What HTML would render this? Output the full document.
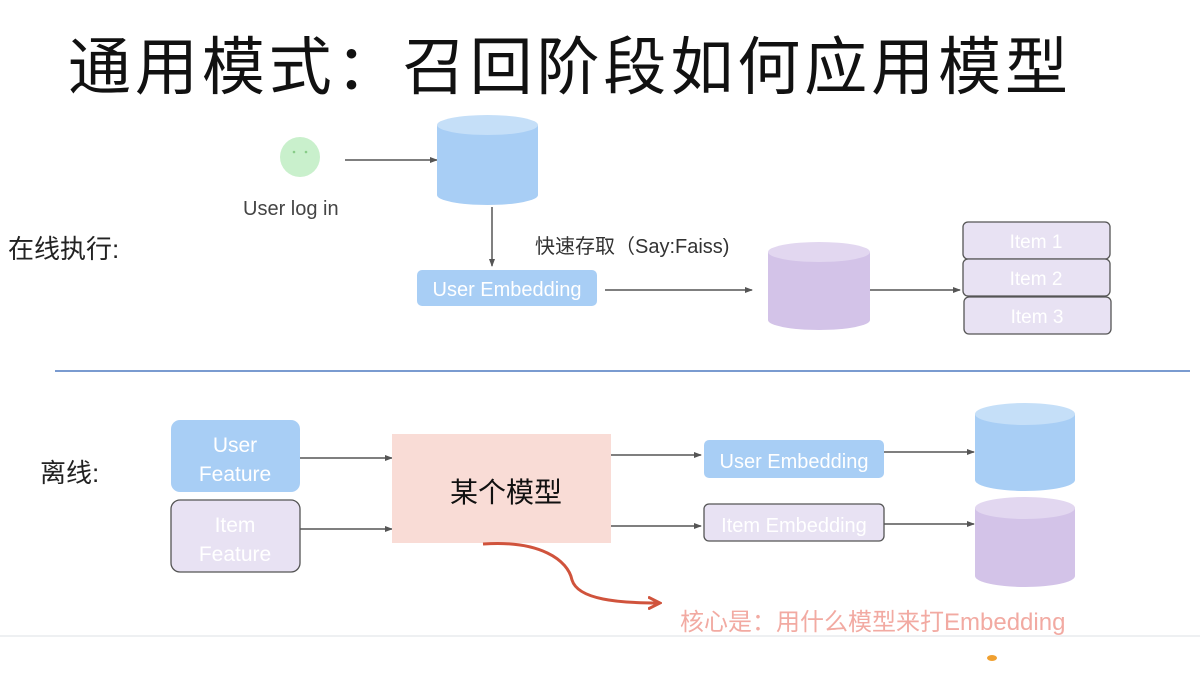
<!DOCTYPE html>
<html><head><meta charset="utf-8"><style>
html,body{margin:0;padding:0;background:#fff;width:1200px;height:695px;overflow:hidden}
svg{display:block}
text{font-family:"Liberation Sans","Noto Sans CJK SC",sans-serif}
</style></head><body>
<svg width="1200" height="695" viewBox="0 0 1200 695" xmlns="http://www.w3.org/2000/svg">
<defs>
<marker id="a" markerWidth="8" markerHeight="8" refX="7" refY="4" orient="auto" markerUnits="userSpaceOnUse"><path d="M0,1 L8,4 L0,7 z" fill="#555"/></marker>
<marker id="r" markerWidth="14" markerHeight="14" refX="10" refY="7" orient="auto" markerUnits="userSpaceOnUse"><path d="M0,1 L12,7 L0,13" fill="none" stroke="#d0533c" stroke-width="3"/></marker>
</defs>
<text x="68" y="89" font-size="63" fill="#111" font-family="'Noto Sans CJK SC',sans-serif" textLength="1000">通用模式：召回阶段如何应用模型</text>

<circle cx="300" cy="157" r="20" fill="#c9f0cc"/>
<circle cx="294" cy="152" r="1.3" fill="#8c8"/><circle cx="306" cy="152" r="1.3" fill="#8c8"/>
<text x="243" y="215" font-size="20" fill="#444">User log in</text>
<line x1="345" y1="160" x2="437" y2="160" stroke="#555" stroke-width="1.5" marker-end="url(#a)"/>
<path d="M437,125 L437,195 A50.5,10 0 0 0 538,195 L538,125 Z" fill="#a8cef5"/>
<ellipse cx="487.5" cy="125" rx="50.5" ry="10" fill="#c5dff8"/>
<line x1="492" y1="207" x2="492" y2="266" stroke="#555" stroke-width="1.5" marker-end="url(#a)"/>
<rect x="417" y="270" width="180" height="36" rx="5" fill="#a8cef5"/>
<text x="507" y="296" font-size="20" fill="#fff" text-anchor="middle">User Embedding</text>
<text x="8" y="258" font-size="26" fill="#222">在线执行:</text>
<text x="535" y="253" font-size="20" fill="#333">快速存取（Say:Faiss)</text>
<line x1="605" y1="290" x2="752" y2="290" stroke="#555" stroke-width="1.5" marker-end="url(#a)"/>
<path d="M768,252 L768,320 A51,10 0 0 0 870,320 L870,252 Z" fill="#d3c3e8"/>
<ellipse cx="819" cy="252" rx="51" ry="10" fill="#e2d7f0"/>
<line x1="870" y1="290" x2="960" y2="290" stroke="#555" stroke-width="1.5" marker-end="url(#a)"/>
<g fill="#e8e2f3" stroke="#555" stroke-width="1.3">
<rect x="963" y="222" width="147" height="37" rx="5"/>
<rect x="963" y="259" width="147" height="37" rx="5"/>
<rect x="964" y="297" width="147" height="37" rx="5"/>
</g>
<g font-size="19" fill="#fff" text-anchor="middle">
<text x="1036" y="248">Item 1</text><text x="1036" y="285">Item 2</text><text x="1037" y="323">Item 3</text>
</g>

<line x1="55" y1="371" x2="1190" y2="371" stroke="#7a9bd0" stroke-width="2"/>

<text x="40" y="482" font-size="26" fill="#222">离线:</text>
<rect x="171" y="420" width="129" height="72" rx="9" fill="#a8cef5"/>
<text x="235" y="452" font-size="21" fill="#fff" text-anchor="middle">User</text>
<text x="235" y="481" font-size="21" fill="#fff" text-anchor="middle">Feature</text>
<rect x="171" y="500" width="129" height="72" rx="9" fill="#e8e2f3" stroke="#555" stroke-width="1.3"/>
<text x="235" y="532" font-size="21" fill="#fff" text-anchor="middle">Item</text>
<text x="235" y="561" font-size="21" fill="#fff" text-anchor="middle">Feature</text>
<line x1="300" y1="458" x2="392" y2="458" stroke="#555" stroke-width="1.5" marker-end="url(#a)"/>
<line x1="300" y1="529" x2="392" y2="529" stroke="#555" stroke-width="1.5" marker-end="url(#a)"/>
<rect x="392" y="434" width="219" height="109" fill="#f9dcd6"/>
<text x="506" y="502" font-size="28" fill="#111" text-anchor="middle" font-family="'Noto Sans CJK SC',sans-serif">某个模型</text>
<line x1="611" y1="455" x2="701" y2="455" stroke="#555" stroke-width="1.5" marker-end="url(#a)"/>
<line x1="611" y1="526" x2="701" y2="526" stroke="#555" stroke-width="1.5" marker-end="url(#a)"/>
<rect x="704" y="440" width="180" height="38" rx="5" fill="#a8cef5"/>
<text x="794" y="468" font-size="20" fill="#fff" text-anchor="middle">User Embedding</text>
<rect x="704" y="504" width="180" height="37" rx="5" fill="#e8e2f3" stroke="#555" stroke-width="1.3"/>
<text x="794" y="532" font-size="20" fill="#fff" text-anchor="middle">Item Embedding</text>
<line x1="884" y1="452" x2="974" y2="452" stroke="#555" stroke-width="1.5" marker-end="url(#a)"/>
<line x1="884" y1="524" x2="974" y2="524" stroke="#555" stroke-width="1.5" marker-end="url(#a)"/>
<path d="M975,414 L975,480 A50,11 0 0 0 1075,480 L1075,414 Z" fill="#a8cef5"/>
<ellipse cx="1025" cy="414" rx="50" ry="11" fill="#c5dff8"/>
<path d="M975,508 L975,576 A50,11 0 0 0 1075,576 L1075,508 Z" fill="#d3c3e8"/>
<ellipse cx="1025" cy="508" rx="50" ry="11" fill="#e2d7f0"/>
<path d="M483,544 C540,540 568,560 572,580 C578,600 620,603 658,603" fill="none" stroke="#d0533c" stroke-width="3" marker-end="url(#r)"/>
<text x="680" y="630" font-size="24" fill="#f2aaa2">核心是：用什么模型来打Embedding</text>
<line x1="0" y1="636" x2="1200" y2="636" stroke="#eef0f2" stroke-width="2"/>
<ellipse cx="992" cy="658" rx="5" ry="3" fill="#f0a030"/>
</svg>
</body></html>
